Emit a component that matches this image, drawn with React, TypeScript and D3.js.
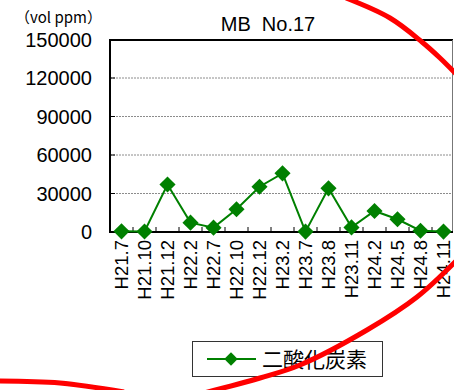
import React, { useEffect, useRef } from 'react'
import * as d3 from 'd3'

const categories = [
    'H21.7', 'H21.10', 'H21.12', 'H22.2', 'H22.7', 'H22.10', 'H22.12', 'H23.2',
    'H23.7', 'H23.8', 'H23.11', 'H24.2', 'H24.5', 'H24.8', 'H24.11'
]
const co2Values = [500, 400, 37000, 7300, 3400, 17700, 35300, 45700, 300, 34000, 3600, 16400, 9900, 1000, 300]
const yTicks = [0, 30000, 60000, 90000, 120000, 150000]
const seriesName = '二酸化炭素'
const title = 'MB\u00a0\u00a0No.17'
const unitLabel = '（vol ppm）'

// red hand-drawn circle over the picture (annotation, not data)
const redTopArc: [number, number][] = [[346, -2], [390, 18], [422, 42], [440, 58], [456, 74]]
const redBottomArc: [number, number][] = [[200, 394], [260, 378], [300, 365], [367, 330], [417, 297], [456, 261]]
const redLeftArc: [number, number][] = [[-4, 381], [60, 383], [124, 392]]

const width = 454
const height = 390
const margin = { top: 40, right: 1, bottom: 158, left: 110 }

export default function App() {
    const svgRef = useRef<SVGSVGElement | null>(null)

    useEffect(() => {
        const svg = d3.select(svgRef.current)
        svg.selectAll('*').remove()

        const x0 = margin.left
        const x1 = width - margin.right
        const y0 = height - margin.bottom
        const y1 = margin.top

        const xScale = d3.scaleBand().domain(categories).range([x0, x1 + 2])
        const yScale = d3.scaleLinear().domain([0, 150000]).range([y0, y1 - 0.5])
        const cx = (c: string) => (xScale(c) as number) + xScale.bandwidth() / 2

        // gridlines
        svg.append('g')
            .selectAll('line')
            .data(yTicks.filter(t => t > 0 && t < 150000))
            .join('line')
            .attr('x1', x0)
            .attr('x2', x1)
            .attr('y1', d => yScale(d))
            .attr('y2', d => yScale(d))
            .attr('stroke', '#8c8c8c')
            .attr('stroke-width', 1)
            .attr('stroke-dasharray', '2,1')

        // frame top / right
        svg.append('line').attr('x1', x0).attr('x2', x1).attr('y1', y1).attr('y2', y1)
            .attr('stroke', '#000').attr('stroke-width', 2)
        svg.append('line').attr('x1', x1 - 0.5).attr('x2', x1 - 0.5).attr('y1', y1).attr('y2', y0)
            .attr('stroke', '#777').attr('stroke-width', 1)

        // y axis
        const yAxis = svg.append('g')
        yAxis.append('line').attr('x1', x0).attr('x2', x0).attr('y1', y1 - 1).attr('y2', y0 + 1)
            .attr('stroke', '#000').attr('stroke-width', 2)
        yAxis.selectAll('line.tick')
            .data(yTicks)
            .join('line')
            .attr('class', 'tick')
            .attr('x1', x0)
            .attr('x2', x0 + 5)
            .attr('y1', d => yScale(d))
            .attr('y2', d => yScale(d))
            .attr('stroke', '#000')
        yAxis.selectAll('text')
            .data(yTicks)
            .join('text')
            .attr('x', 92)
            .attr('y', d => yScale(d))
            .attr('dy', '0.36em')
            .attr('text-anchor', 'end')
            .attr('font-family', 'Liberation Sans, Arial, sans-serif')
            .attr('font-size', 20)
            .attr('fill', '#000')
            .text(d => String(d))

        // x axis
        const xAxis = svg.append('g')
        xAxis.append('line').attr('x1', x0 - 1).attr('x2', x1).attr('y1', y0).attr('y2', y0)
            .attr('stroke', '#000').attr('stroke-width', 2)
        xAxis.selectAll('line.tick')
            .data(categories.slice(1))
            .join('line')
            .attr('class', 'tick')
            .attr('x1', d => xScale(d) as number)
            .attr('x2', d => xScale(d) as number)
            .attr('y1', y0)
            .attr('y2', y0 - 5)
            .attr('stroke', '#000')
        xAxis.selectAll('text')
            .data(categories)
            .join('text')
            .attr('transform', d => `translate(${cx(d)}, ${y0 + 8}) rotate(-90)`)
            .attr('dy', '0.36em')
            .attr('text-anchor', 'end')
            .attr('font-family', 'Liberation Sans, Arial, sans-serif')
            .attr('font-size', 18.5)
            .attr('fill', '#000')
            .text(d => d)

        // series line
        const line = d3.line<number>()
            .x((_, i) => cx(categories[i]))
            .y(d => yScale(d))
        svg.append('path')
            .datum(co2Values)
            .attr('d', line)
            .attr('fill', 'none')
            .attr('stroke', '#008000')
            .attr('stroke-width', 2)

        svg.append('g')
            .selectAll('path')
            .data(co2Values)
            .join('path')
            .attr('transform', (d, i) => `translate(${cx(categories[i])}, ${yScale(d)}) rotate(45)`)
            .attr('d', d3.symbol().type(d3.symbolSquare).size(130)())
            .attr('fill', '#008000')

        // title and unit
        svg.append('text')
            .attr('x', 268)
            .attr('y', 31)
            .attr('text-anchor', 'middle')
            .attr('font-family', 'Liberation Sans, Arial, sans-serif')
            .attr('font-size', 20)
            .attr('fill', '#000')
            .text(title)
        svg.append('text')
            .attr('x', 15)
            .attr('y', 23)
            .attr('font-family', 'Noto Sans CJK JP, Liberation Sans, sans-serif')
            .attr('font-size', 15)
            .attr('fill', '#000')
            .text(unitLabel)

        // legend
        const lg = svg.append('g').attr('transform', 'translate(192, 341)')
        lg.append('rect').attr('x', 0.5).attr('y', 0.5).attr('width', 190).attr('height', 35)
            .attr('fill', '#fff').attr('stroke', '#333')
        lg.append('line').attr('x1', 15).attr('x2', 64).attr('y1', 18).attr('y2', 18)
            .attr('stroke', '#008000').attr('stroke-width', 2)
        lg.append('path')
            .attr('transform', 'translate(39, 18) rotate(45)')
            .attr('d', d3.symbol().type(d3.symbolSquare).size(90)())
            .attr('fill', '#008000')
        lg.append('text')
            .attr('x', 70)
            .attr('y', 18)
            .attr('dy', '0.36em')
            .attr('font-family', 'Noto Sans CJK JP, sans-serif')
            .attr('font-size', 21)
            .attr('fill', '#000')
            .text(seriesName)

        // red annotation circle
        const curve = d3.line().curve(d3.curveCatmullRom)
        for (const arc of [redTopArc, redBottomArc, redLeftArc]) {
            svg.append('path')
                .attr('d', curve(arc))
                .attr('fill', 'none')
                .attr('stroke', '#ff0000')
                .attr('stroke-width', 5)
        }
    }, [])

    return (
        <svg
            ref={svgRef}
            width={width}
            height={height}
            style={{ position: 'absolute', left: 0, top: 0, background: '#fff' }}
        />
    )
}
